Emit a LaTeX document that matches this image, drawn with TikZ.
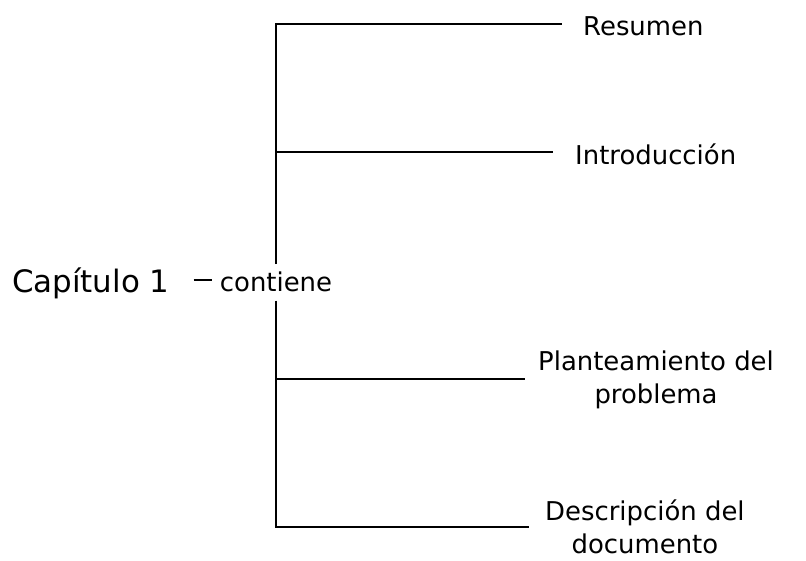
\documentclass[tikz,border=0pt]{standalone}
\usepackage{fontspec}
\setmainfont{DejaVu Sans}
\usepackage{tikz}
\tikzset{
  font={\fontsize{26pt}{33pt}\selectfont},
  leaf/.style={anchor=west, align=center},
  branch/.style={black, line width=2bp}}

\begin{document}
\begin{tikzpicture}[x=1bp,y=-1bp]
\tikzstyle{every node}+=[inner sep=0pt]
\useasboundingbox (0,0) rectangle (806,561);
\node [anchor=west, font={\fontsize{31pt}{36pt}\selectfont}] (cap) at (12,283) {Capítulo 1};
\node [anchor=base, inner sep=8bp] (cont) at (276,292) {contiene};
\coordinate (dash) at ([yshift=2bp]cont.west);
\coordinate (b1) at (276,24);
\coordinate (b2) at (276,152);
\coordinate (b3) at (276,379);
\coordinate (b4) at (276,527);
\node [leaf] (res) at (583,26) {Resumen};
\node [leaf] (intro) at (575,154) {Introducción};
\node [leaf] (plan) at (538,380) {Planteamiento del\\problema};
\node [leaf] (desc) at (545,527) {Descripción del\\documento};
\draw [branch, shorten <=24bp] (dash -| cap.east) -- (dash);
\draw [branch, shorten >=21bp] (cont.north) -- (b1) -- (b1 -| res.west);
\draw [branch, shorten >=16bp] (cont.south) -- (b4) -- (b4 -| desc.west);
\draw [branch, shorten >=22bp] (b2) -- (b2 -| intro.west);
\draw [branch, shorten >=13bp] (b3) -- (b3 -| plan.west);
\end{tikzpicture}
\end{document}
